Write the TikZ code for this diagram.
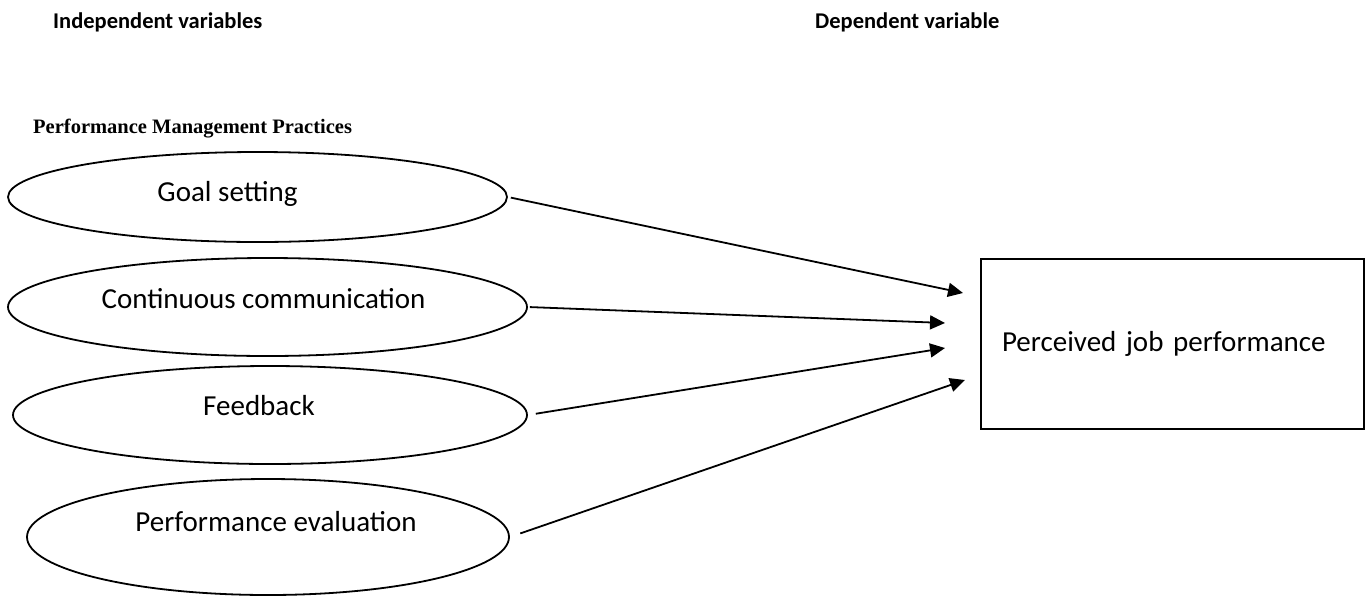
\documentclass[tikz,border=0pt]{standalone}
\usepackage{fontspec}
\usepackage{tikz}
\usetikzlibrary{arrows.meta,positioning,shapes.geometric}
\setmainfont{Carlito}
\newfontfamily\timesfont{Liberation Serif}
\definecolor{pmBlack}{RGB}{0,0,0}

\tikzset{
    oval/.style={ellipse, draw=pmBlack, line width=1.8pt, inner sep=0pt},
    txt/.style={font=\fontsize{29pt}{34pt}\selectfont, text=pmBlack, inner sep=0pt, text height=20pt, text depth=6pt},
    head/.style={font=\fontsize{22.5pt}{27pt}\selectfont\bfseries, inner sep=0pt, anchor=base west},
    link/.style={draw=pmBlack, line width=1.8pt, -{Triangle[length=15pt,width=14pt]}}
}

\begin{document}
\begin{tikzpicture}[x=1pt,y=-1pt]
    \useasboundingbox (0,0) rectangle (1372,600);

    % headings
    \node[head] (indep) at (53,28) {Independent variables};
    \node[head] (dep) at (815,28) {Dependent variable};
    \node[inner sep=0pt, anchor=base west, font=\timesfont\fontsize{20.5pt}{24pt}\selectfont\bfseries] (pmp) at (33,133) {Performance Management Practices};

    % independent variables
    \node[oval, minimum width=499pt, minimum height=90pt,
        label={[txt, xshift=-30pt, yshift=3pt]center:Goal setting}] (goal) at (257.5,197) {};
    \node[oval, minimum width=519pt, minimum height=98pt,
        label={[txt, xshift=-4pt, yshift=6pt]center:Continuous communication}] (comm) at (267.5,307) {};
    \node[oval, minimum width=514pt, minimum height=98pt,
        label={[txt, xshift=-11pt, yshift=7pt]center:Feedback}] (fb) at (270,415) {};
    \node[oval, minimum width=482pt, minimum height=116pt,
        label={[txt, xshift=8pt, yshift=13pt]center:Performance evaluation}] (eval) at (268,537) {};

    % dependent variable
    \node[draw=pmBlack, line width=1.8pt, minimum width=383pt, minimum height=170pt,
        inner xsep=21pt, text width=341pt, align=left,
        font=\fontsize{29pt}{34pt}\selectfont] (perf) at (1172.5,344) {Perceived job performance};

    % arrow tips
    \coordinate (t1) at (963,293);
    \coordinate (t2) at (945,323);
    \coordinate (t3) at (945,348);
    \coordinate (t4) at (965,380);

    % links
    \draw[link, shorten <=3pt] (goal.east) -- (t1);
    \draw[link, shorten <=2pt] (comm.east) -- (t2);
    \draw[link, shorten <=8pt] (fb.east) -- (t3);
    \draw[link, shorten <=11pt] (eval.east) -- (t4);
\end{tikzpicture}
\end{document}
